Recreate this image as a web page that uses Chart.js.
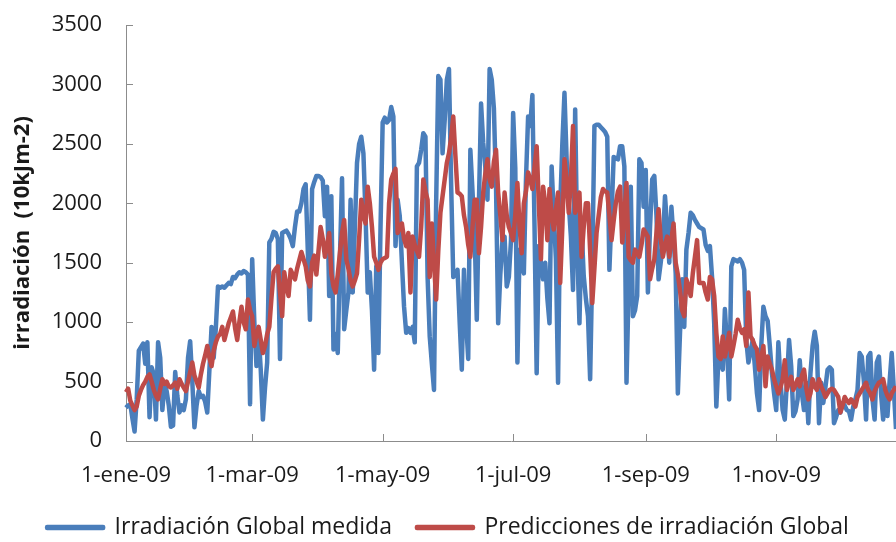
<!DOCTYPE html>
<html>
<head>
<meta charset="utf-8">
<script src="https://cdn.jsdelivr.net/npm/chart.js@4.4.1/dist/chart.umd.min.js"></script>
<style>
  html, body { margin: 0; padding: 0; background: #fff; }
</style>
</head>
<body>
<canvas id="grafico" width="896" height="542"></canvas>
<script>
// datos diarios 2009, 1-ene a 27-dic
const medida = [
  280, 300, 310, 190, 80, 350, 760, 790, 820, 650,
  830, 200, 620, 560, 180, 830, 700, 260, 490, 420,
  300, 120, 130, 580, 380, 240, 300, 260, 350, 700,
  840, 500, 115, 300, 420, 370, 380, 330, 240, 600,
  960, 700, 950, 1300, 1290, 1300, 1290, 1310, 1330, 1320,
  1380, 1370, 1400, 1420, 1410, 1430, 1420, 1400, 310, 1530,
  1000, 630, 900, 600, 180, 450, 660, 1670, 1700, 1760,
  1750, 1700, 690, 1750, 1760, 1770, 1740, 1700, 1640, 1800,
  1930, 1930, 2000, 2120, 2160, 1600, 1020, 2120, 2180, 2230,
  2230, 2220, 2190, 1890, 2140, 1220, 2060, 770, 900, 740,
  1530, 2210, 940, 1100, 1250, 2030, 1250, 1800, 2340, 2500,
  2560, 2420, 1900, 1250, 1420, 1100, 600, 1470, 740, 1800,
  2680, 2720, 2680, 2700, 2810, 2730, 1640, 2030, 1890, 1500,
  1130, 910, 950, 910, 960, 830, 2310, 2340, 2450, 2590,
  2560, 1380, 880, 650, 430, 2000, 3070, 3040, 2420, 2700,
  3040, 3130, 2170, 1380, 1400, 1440, 1000, 600, 1440, 1000,
  690, 2450, 2100, 1750, 1020, 2000, 2840, 2510, 2300, 2030,
  3130, 3040, 2800, 2140, 990, 1400, 1690, 1720, 1300, 1380,
  1690, 2760, 2300, 660, 1610, 1500, 1410, 2200, 2730, 2650,
  2910, 1800, 570, 1640, 1500, 1360, 1500, 1200, 990, 2310,
  1900, 1530, 490, 1970, 2500, 2930, 2370, 2000, 1720, 1270,
  2790, 1600, 990, 1800, 1390, 1200, 1050, 520, 1470, 2650,
  2660, 2660, 2640, 2620, 2600, 2560, 1440, 1900, 2390, 2380,
  2370, 2480, 2480, 2310, 490, 1300, 2140, 1050, 1100, 1220,
  2370, 2340, 1970, 2280, 1250, 1800, 2200, 2230, 1900, 1360,
  1500, 1670, 2060, 1800, 1500, 1970, 1700, 1410, 400, 900,
  1360, 960, 1610, 1750, 1920, 1900, 1860, 1830, 1800, 1790,
  1780, 1650, 1600, 1640, 1380, 990, 290, 710, 660, 600,
  1110, 800, 350, 1470, 1530, 1520, 1510, 1530, 1500, 1440,
  850, 660, 750, 850, 630, 400, 260, 800, 1130, 1050,
  1010, 800, 570, 400, 260, 830, 500, 260, 180, 500,
  850, 630, 210, 250, 350, 680, 400, 260, 490, 150,
  570, 800, 920, 800, 150, 490, 320, 450, 600, 620,
  600, 150, 200, 260, 240, 320, 300, 260, 250, 180,
  290, 350, 430, 740, 710, 500, 180, 710, 740, 350,
  180, 660, 710, 400, 180, 430, 210, 500, 740, 430,
  100
];

const prediccion = [
  410, 440, 340, 300, 260, 290, 380, 430, 470, 500,
  540, 560, 500, 430, 380, 350, 440, 520, 480, 500,
  460, 450, 470, 490, 440, 520, 480, 450, 420, 500,
  580, 660, 550, 500, 450, 560, 650, 720, 800, 700,
  630, 760, 830, 880, 900, 960, 850, 920, 990, 1040,
  1090, 950, 850, 1000, 1130, 1000, 940, 1190, 1100, 1050,
  800, 900, 960, 850, 740, 800, 900, 960, 1200, 1420,
  1450, 1470, 1250, 1050, 1420, 1300, 1220, 1440, 1400, 1360,
  1450, 1520, 1590, 1530, 1470, 1350, 1300, 1500, 1560, 1400,
  1600, 1800, 1700, 1550, 1650, 1750, 1410, 1300, 1250, 1400,
  1580, 1750, 1860, 1530, 1450, 1350, 1300, 1350, 1410, 1700,
  2030, 1900, 1830, 2140, 2000, 1800, 1550, 1500, 1440, 1500,
  1530, 1540, 1550, 2000, 2200, 2250, 2290, 1750, 1800, 1830,
  1700, 1640, 1750, 1250, 1720, 1650, 1600, 1550, 1800, 2200,
  2100, 2030, 1380, 1830, 1500, 1190, 1600, 1920, 2060, 2200,
  2340, 2420, 2550, 2730, 2400, 2090, 2080, 2060, 1900, 1800,
  1650, 1550, 1800, 2030, 2030, 1580, 1800, 2090, 2250, 2370,
  2200, 2140, 2350, 2450, 2090, 1900, 1690, 2090, 1900, 1800,
  1750, 1690, 1900, 2170, 1800, 1580, 2000, 2100, 2260, 2200,
  2120, 2300, 2480, 2000, 1530, 2140, 2000, 1690, 2120, 1900,
  1780, 1950, 2090, 1330, 1800, 2370, 2200, 1920, 2200, 2650,
  1920, 2000, 2090, 1550, 1800, 2000, 2000, 1600, 1160, 1450,
  1750, 1900, 2050, 2120, 2100, 2090, 1900, 1690, 1850, 2000,
  2100, 2140, 1670, 1900, 2170, 1550, 1520, 1500, 1610, 1580,
  1550, 1650, 1780, 1750, 1720, 1360, 1450, 1530, 1750, 1950,
  1700, 1550, 1650, 1720, 1550, 1700, 1830, 1500, 1400, 1270,
  1100, 1050, 1360, 1300, 1220, 1410, 1550, 1690, 1330, 1330,
  1330, 1250, 1190, 1380, 1360, 1220, 910, 710, 690, 880,
  710, 800, 910, 710, 800, 900, 1020, 950, 910, 940,
  800, 1250, 880, 850, 800, 770, 600, 700, 800, 460,
  710, 650, 600, 520, 460, 400, 450, 520, 680, 430,
  500, 540, 430, 470, 520, 460, 550, 600, 450, 350,
  400, 520, 460, 430, 520, 460, 420, 370, 400, 430,
  440, 430, 400, 370, 240, 300, 370, 340, 320, 350,
  320, 290, 370, 400, 430, 460, 490, 430, 400, 350,
  420, 460, 490, 500, 520, 430, 380, 350, 400, 430,
  460
];

const meses = ['ene', 'feb', 'mar', 'abr', 'may', 'jun', 'jul', 'ago', 'sep', 'oct', 'nov', 'dic'];
const mesesConEtiqueta = [0, 2, 4, 6, 8, 10]; // una etiqueta cada dos meses
const ticksY = [0, 500, 1000, 1500, 2000, 2500, 3000, 3500];

// etiquetas de fecha tipo 1-ene-09
const fechas = [];
const esMarca = [];
for (let d = 0; d < medida.length; d++) {
    const f = new Date(2009, 0, 1 + d);
    fechas.push(f.getDate() + '-' + meses[f.getMonth()] + '-09');
    esMarca.push(f.getDate() === 1 && mesesConEtiqueta.includes(f.getMonth()));
}

const fuente = "'Open Sans', sans-serif";
const colorTexto = '#1a1a1a';
const colorEje = '#8c8c8c';

// marcas cortas hacia dentro en los ejes, como en Excel
const marcasInternas = {
    id: 'marcasInternas',
    afterDatasetsDraw(chart) {
        const ctx = chart.ctx;
        const x = chart.scales.x;
        const y = chart.scales.y;
        ctx.save();
        ctx.strokeStyle = colorEje;
        ctx.lineWidth = 1;
        ctx.beginPath();
        ticksY.forEach(v => {
            const py = Math.round(y.getPixelForValue(v)) + 0.5;
            ctx.moveTo(x.left, py);
            ctx.lineTo(x.left + 7, py);
        });
        esMarca.forEach((m, i) => {
            if (!m || i === 0) return;
            const px = Math.round(x.getPixelForValue(i)) + 0.5;
            ctx.moveTo(px, y.bottom);
            ctx.lineTo(px, y.bottom - 7);
        });
        ctx.stroke();
        ctx.restore();
    }
};

new Chart(document.getElementById('grafico'), {
    type: 'line',
    data: {
        labels: fechas,
        datasets: [
            {
                label: 'Irradiación Global medida',
                data: medida,
                borderColor: '#4a7ebb',
                backgroundColor: '#4a7ebb',
                borderWidth: 4.5,
                pointRadius: 0,
                tension: 0,
                borderJoinStyle: 'round',
                order: 1
            },
            {
                label: 'Predicciones de irradiación Global',
                data: prediccion,
                borderColor: '#be4b48',
                backgroundColor: '#be4b48',
                borderWidth: 4.5,
                pointRadius: 0,
                tension: 0,
                borderJoinStyle: 'round',
                order: 0
            }
        ]
    },
    options: {
        responsive: false,
        animation: false,
        layout: { padding: { top: 25, right: 0, left: 0, bottom: -7 } },
        plugins: {
            tooltip: { enabled: false },
            legend: {
                position: 'bottom',
                labels: {
                    boxWidth: 56,
                    boxHeight: 1,
                    padding: 25,
                    color: colorTexto,
                    font: { family: fuente, size: 23 },
                    sort: (a, b) => a.datasetIndex - b.datasetIndex
                }
            }
        },
        scales: {
            x: {
                type: 'category',
                offset: false,
                afterFit(scale) { scale.height = 50; },
                grid: { display: true, drawOnChartArea: false, drawTicks: false },
                border: { color: colorEje, width: 1 },
                ticks: {
                    autoSkip: false,
                    maxRotation: 0,
                    minRotation: 0,
                    padding: 22,
                    color: colorTexto,
                    font: { family: fuente, size: 22 },
                    callback: function(v, i) { return esMarca[i] ? fechas[i] : null; }
                }
            },
            y: {
                min: 0,
                max: 3500,
                afterFit(scale) { scale.width = 126; },
                grid: {
                    display: true,
                    drawOnChartArea: false,
                    drawTicks: true,
                    tickLength: 21,
                    tickColor: 'rgba(0,0,0,0)'
                },
                border: { color: colorEje, width: 1 },
                ticks: {
                    stepSize: 500,
                    padding: 3,
                    color: colorTexto,
                    font: { family: fuente, size: 22 },
                    callback: v => String(v)
                },
                title: {
                    display: true,
                    text: 'irradiación  (10kJm-2)',
                    color: colorTexto,
                    font: { family: fuente, size: 22, weight: 'bold' },
                    padding: { top: 10, bottom: 0 }
                }
            }
        }
    },
    plugins: [marcasInternas]
});
</script>
</body>
</html>
